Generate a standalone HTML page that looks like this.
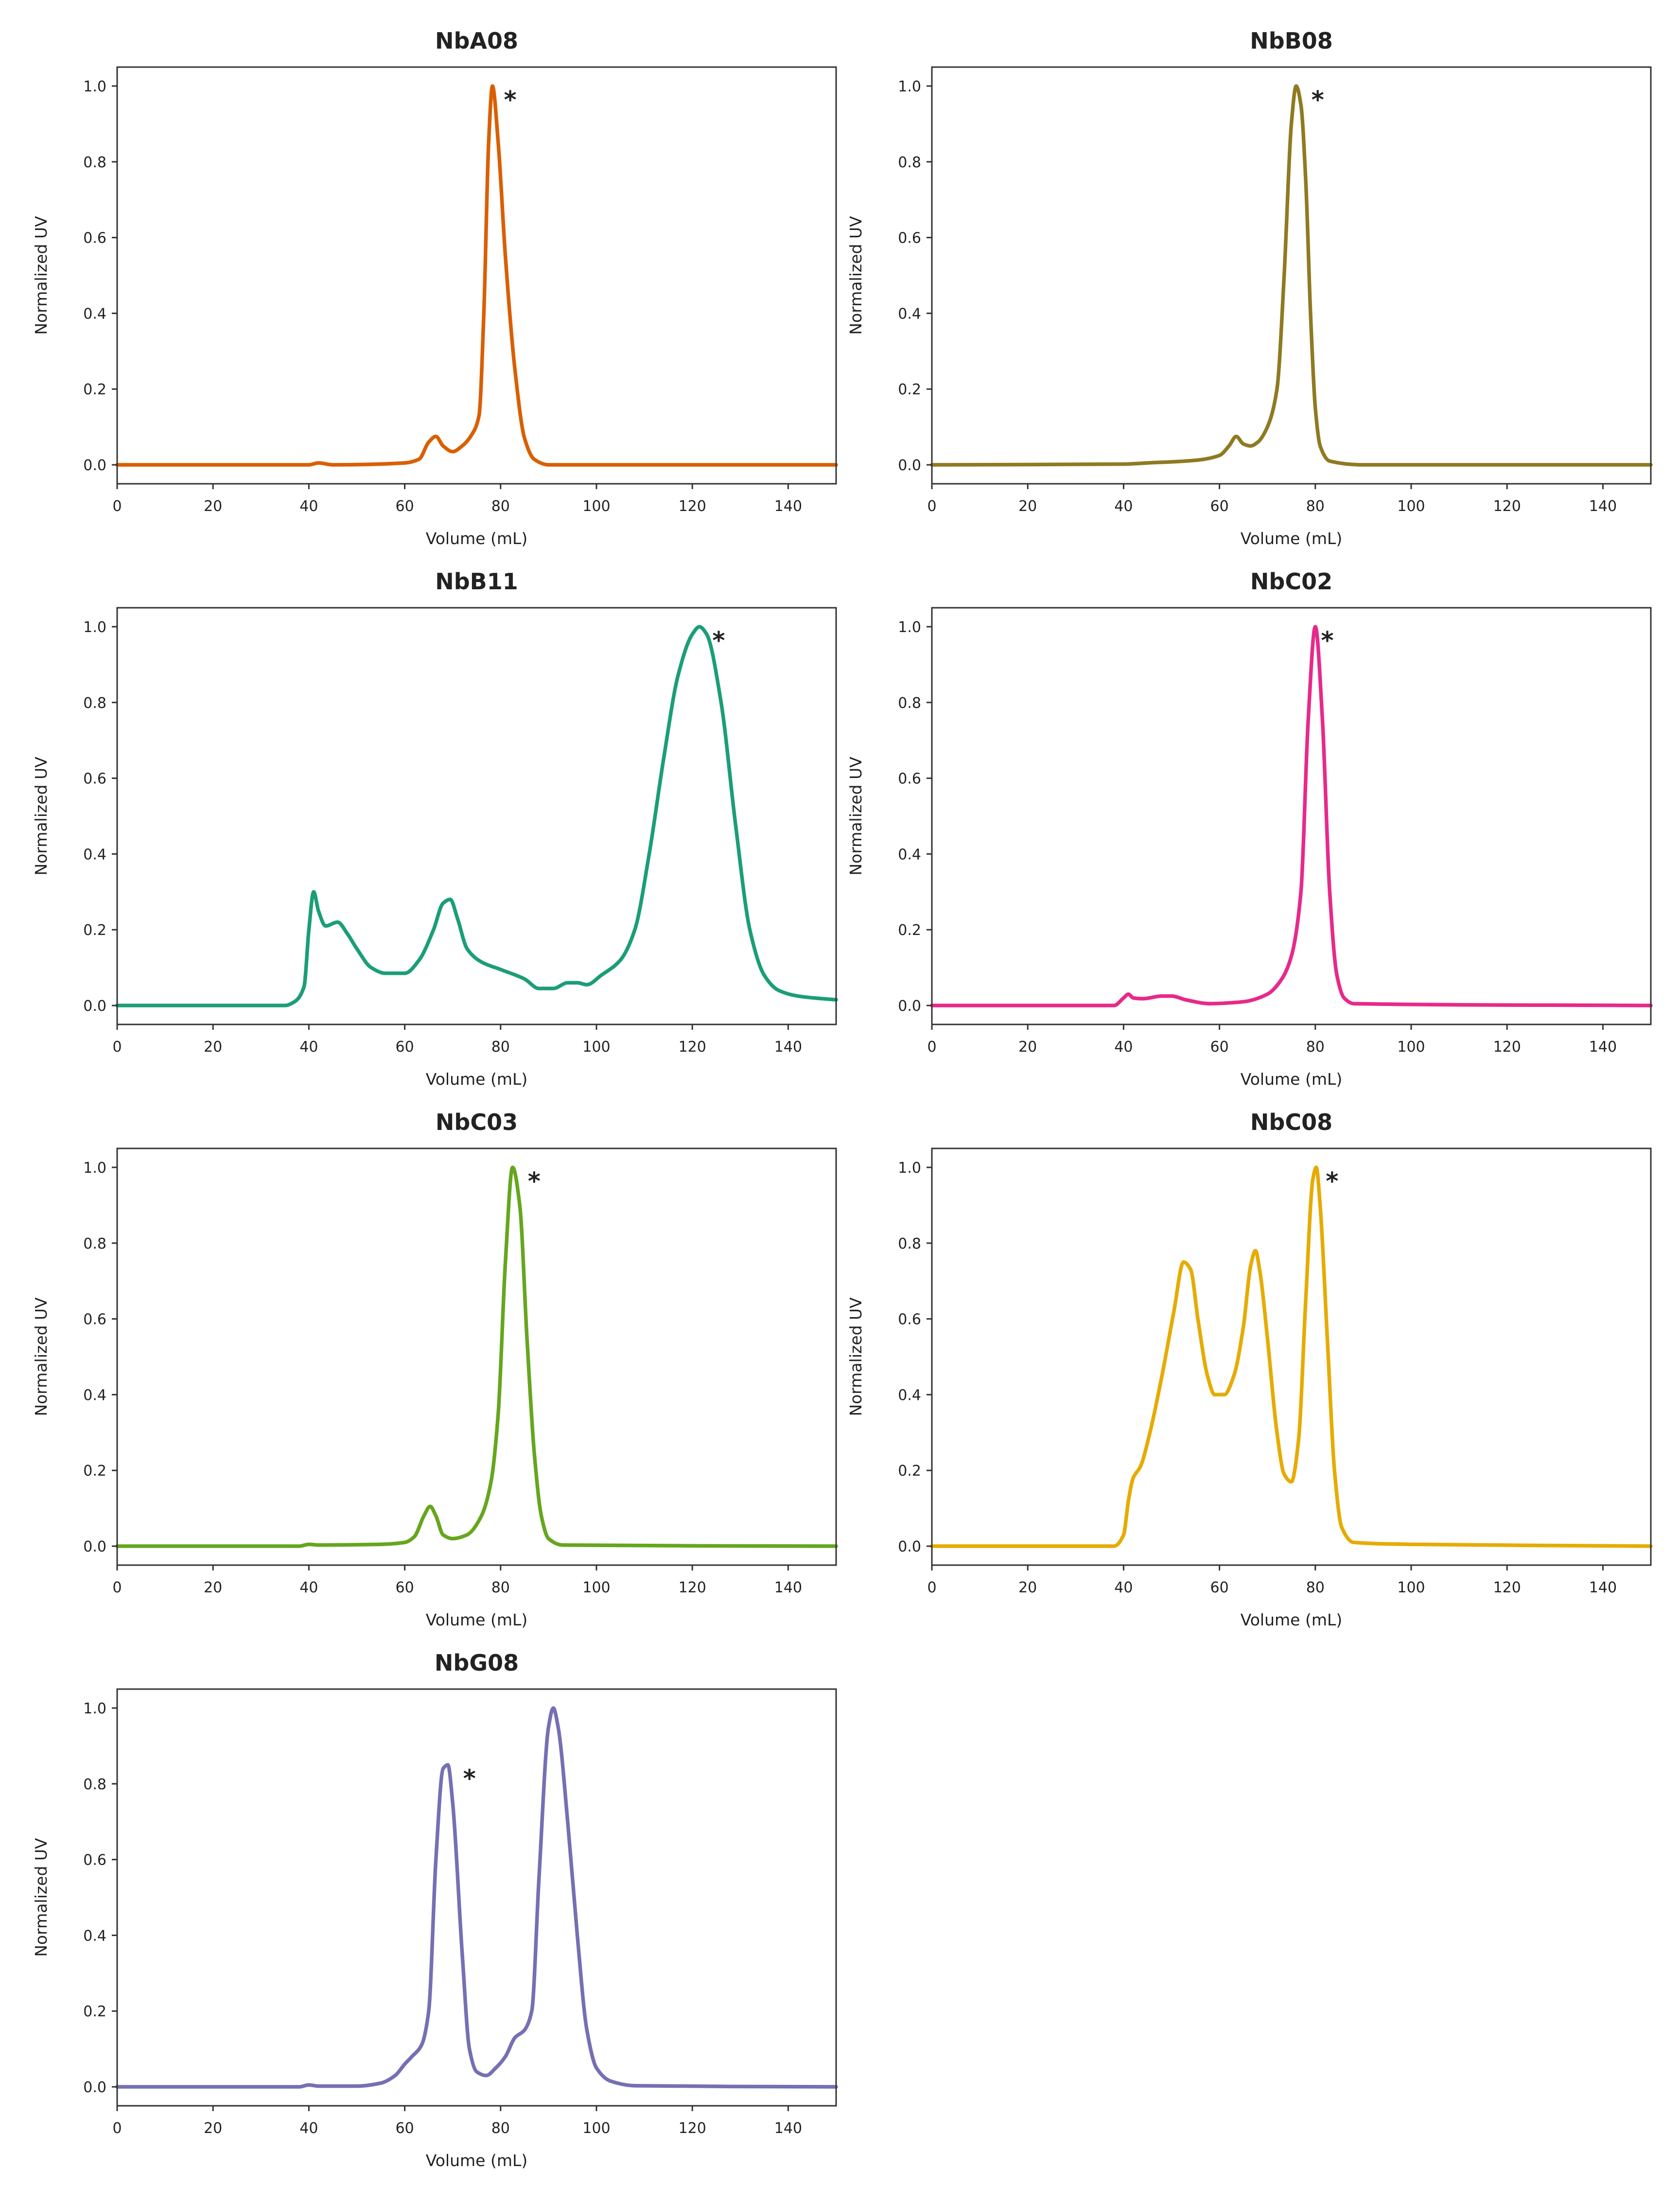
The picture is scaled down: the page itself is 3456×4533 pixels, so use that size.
<!DOCTYPE html>
<html><head><meta charset="utf-8">
<style>
html,body{margin:0;padding:0;background:#fff;}
svg{display:block;}
text{font-family:"DejaVu Sans","Liberation Sans",sans-serif;fill:#222;}
</style></head>
<body>
<svg id="fig" width="3456" height="4533" viewBox="0 0 3456 4533" xmlns="http://www.w3.org/2000/svg"></svg>
<script>
const panelNames = ["NbA08","NbB08","NbB11","NbC02","NbC03","NbC08","NbG08"];
const panelColors = ["#d95f02","#8f7a22","#1b9e77","#e7298a","#66a61e","#e6ab02","#7570b3"];
const xTicks = [0,20,40,60,80,100,120,140];
const yTicks = [0.0,0.2,0.4,0.6,0.8,1.0];
const yTickLabels = ["0.0","0.2","0.4","0.6","0.8","1.0"];
const starX = [82,80.5,125.5,82.5,87,83.5,73.5];
const starY = [0.97,0.97,0.97,0.97,0.97,0.97,0.82];

const volA08 = [0,40,42,45,60,63,65,66.5,68,70,72,74,75.5,76.5,77.5,78.3,79.5,81,83,85,87,90,150];
const uvA08  = [0,0,0.005,0,0.005,0.015,0.06,0.075,0.05,0.035,0.05,0.08,0.13,0.4,0.85,1.0,0.85,0.55,0.25,0.07,0.015,0,0];
const volB08 = [0,40,45,55,60,62,63.5,65,66.5,68,70,72,73.5,75,76,77,78,79,80,81,83,90,150];
const uvB08  = [0,0.002,0.005,0.012,0.025,0.05,0.075,0.055,0.05,0.06,0.1,0.2,0.5,0.9,1.0,0.95,0.75,0.4,0.15,0.05,0.01,0,0];
const volB11 = [0,35,37,39,40,41,42,43.5,46,48,50,53,56,60,63,66,68,69.5,71,73,76,80,85,88,91,94,96,98,101,105,108,111,114,117,120,121.5,123,126,129,132,135,138,142,150];
const uvB11  = [0,0,0.01,0.05,0.2,0.3,0.25,0.21,0.22,0.19,0.15,0.1,0.085,0.085,0.12,0.2,0.27,0.28,0.23,0.15,0.115,0.095,0.07,0.045,0.045,0.06,0.06,0.055,0.08,0.12,0.2,0.4,0.65,0.87,0.98,1.0,0.98,0.8,0.48,0.2,0.08,0.04,0.025,0.015];
const volC02 = [0,38,40,41,42,44,48,50,53,58,65,70,73,75,77,78.5,80,81.5,83,84.5,86,88,150];
const uvC02  = [0,0,0.02,0.03,0.02,0.018,0.025,0.025,0.015,0.005,0.01,0.03,0.07,0.13,0.3,0.75,1.0,0.75,0.3,0.08,0.02,0.005,0];
const volC03 = [0,38,40,42,55,60,62,64,65.3,66.5,68,70,73,76,78,79.5,81,82.5,84,85.5,87,88.5,90,93,150];
const uvC03  = [0,0,0.005,0.003,0.005,0.01,0.025,0.08,0.105,0.08,0.03,0.02,0.03,0.08,0.17,0.35,0.75,1.0,0.9,0.55,0.25,0.08,0.02,0.003,0];
const volC08 = [0,38,40,41,42,43.5,45.5,48,50.5,52.5,54,55.5,57.5,59,61,63,65,66.5,67.5,68.5,70,72,73.5,75,76.5,78,79.5,80.2,81,82.5,84,85.5,88,100,150];
const uvC08  = [0,0,0.03,0.12,0.18,0.21,0.3,0.45,0.62,0.75,0.73,0.6,0.45,0.4,0.4,0.45,0.58,0.74,0.78,0.72,0.55,0.3,0.19,0.17,0.28,0.65,0.97,1.0,0.9,0.55,0.2,0.05,0.01,0.005,0];
const volG08 = [0,38,40,42,50,55,58,60,61.5,63.5,65,66.5,68,69,70,72,73.5,75,77,79,81,83,85,86.5,88,90,91,92,94,96,98,100,103,108,150];
const uvG08  = [0,0,0.005,0.002,0.002,0.01,0.03,0.06,0.08,0.11,0.2,0.6,0.84,0.85,0.75,0.35,0.1,0.04,0.03,0.05,0.08,0.13,0.15,0.2,0.55,0.95,1.0,0.95,0.7,0.4,0.15,0.05,0.015,0.003,0];

const panelVols = [volA08,volB08,volB11,volC02,volC03,volC08,volG08];
const panelUVs  = [uvA08,uvB08,uvB11,uvC02,uvC03,uvC08,uvG08];

const NS = "http://www.w3.org/2000/svg";
const svg = document.getElementById("fig");
function mk(tag, attrs, parent){
  const e = document.createElementNS(NS, tag);
  for (const k in attrs) e.setAttribute(k, attrs[k]);
  (parent||svg).appendChild(e);
  return e;
}
// monotone cubic (Fritsch-Carlson) in data space, output bezier in pixel space
function monoPath(xv, yv, xs, ys){
  const n = xv.length, d = [], m = new Array(n);
  for (let i=0;i<n-1;i++) d.push((yv[i+1]-yv[i])/(xv[i+1]-xv[i]));
  m[0]=d[0]; m[n-1]=d[n-2];
  for (let i=1;i<n-1;i++){
    if (d[i-1]*d[i] <= 0) m[i]=0;
    else {
      const h0 = xv[i]-xv[i-1], h1 = xv[i+1]-xv[i];
      const w1 = 2*h1+h0, w2 = h1+2*h0;
      m[i] = (w1+w2)/(w1/d[i-1]+w2/d[i]);
    }
  }
  let p = "M"+xs(xv[0]).toFixed(1)+","+ys(yv[0]).toFixed(1);
  for (let i=0;i<n-1;i++){
    const h = xv[i+1]-xv[i];
    const c1x = xv[i]+h/3, c1y = yv[i]+m[i]*h/3;
    const c2x = xv[i+1]-h/3, c2y = yv[i+1]-m[i+1]*h/3;
    p += " C"+xs(c1x).toFixed(1)+","+ys(c1y).toFixed(1)+" "+xs(c2x).toFixed(1)+","+ys(c2y).toFixed(1)+" "+xs(xv[i+1]).toFixed(1)+","+ys(yv[i+1]).toFixed(1);
  }
  return p;
}

for (let p=0;p<panelNames.length;p++){
  const col = p%2, row = Math.floor(p/2);
  const L = 241 + col*1676, R = 1720 + col*1676;
  const T = 138 + row*1112, B = 995 + row*1112;
  const xs = v => L + (v-0)/(150-0)*(R-L);
  const ys = v => B - (v-(-0.05))/(1.05-(-0.05))*(B-T);

  const g = mk("g", {});
  
  

  const title = mk("text", {x:(L+R)/2, y:T-38, "text-anchor":"middle", "font-size":"46", "font-weight":"bold"}, g);
  title.textContent = panelNames[p];
  
  

  const line = mk("path", {d: monoPath(panelVols[p], panelUVs[p], xs, ys), fill:"none", stroke:panelColors[p], "stroke-width":"7.5", "stroke-linejoin":"round", "stroke-linecap":"round"}, g);
  
  

  const frame = mk("rect", {x:L, y:T, width:R-L, height:B-T, fill:"none", stroke:"#333", "stroke-width":"3"}, g);
  
  

  xTicks.forEach(v=>{
    const tk = mk("line", {x1:xs(v), x2:xs(v), y1:B, y2:B+11, stroke:"#333", "stroke-width":"3"}, g);
    
    
    const tl = mk("text", {x:xs(v), y:B+56, "text-anchor":"middle", "font-size":"30"}, g);
    tl.textContent = String(v);
    
    
  });
  yTicks.forEach((v,i)=>{
    const tk = mk("line", {x1:L-11, x2:L, y1:ys(v), y2:ys(v), stroke:"#333", "stroke-width":"3"}, g);
    
    
    const tl = mk("text", {x:L-22, y:ys(v)+11, "text-anchor":"end", "font-size":"30"}, g);
    tl.textContent = yTickLabels[i];
    
    
  });
  const xl = mk("text", {x:(L+R)/2, y:B+124, "text-anchor":"middle", "font-size":"33"}, g);
  xl.textContent = "Volume (mL)";
  
  
  const yl = mk("text", {x:0, y:0, "text-anchor":"middle", "font-size":"33", transform:"translate("+(L-145)+","+((T+B)/2)+") rotate(-90)"}, g);
  yl.textContent = "Normalized UV";
  
  

  const st = mk("text", {x:xs(starX[p]), y:ys(starY[p])+22, "text-anchor":"middle", "font-size":"50", "font-weight":"bold"}, g);
  st.textContent = "*";
  
  
}
</script>
</body></html>
